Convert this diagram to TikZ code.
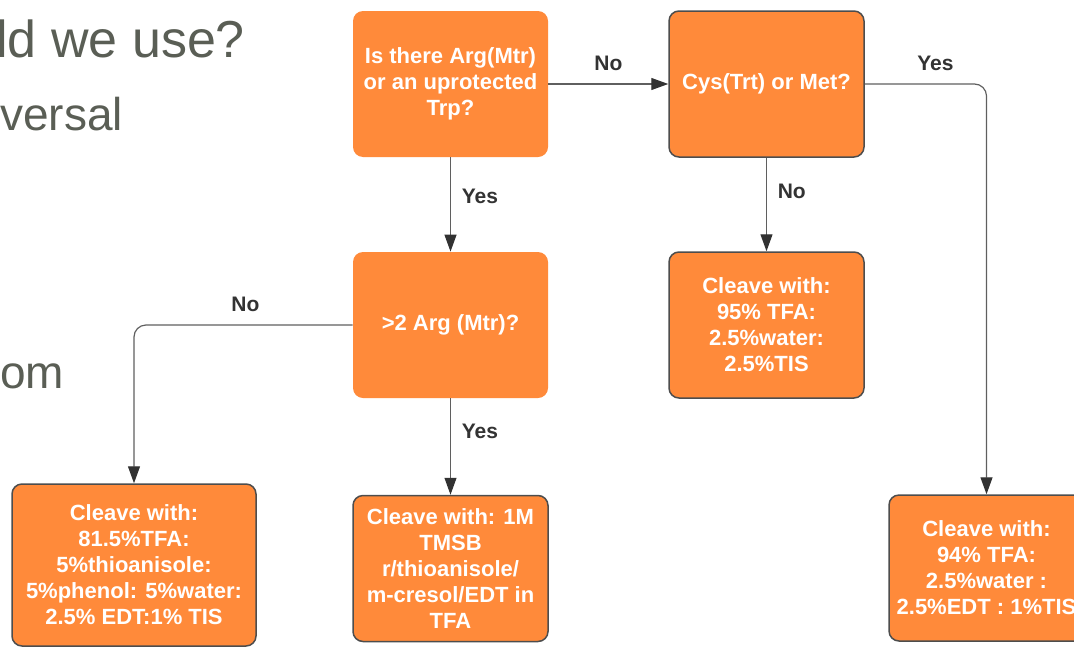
\documentclass[tikz,border=0pt]{standalone}
\usepackage{fontspec}
\setmainfont{Liberation Sans}
\usepackage{tikz}
\usetikzlibrary{%
	arrows.meta,% wg. Triangle
	positioning%
}
\definecolor{boxorange}{RGB}{255,138,58}
\definecolor{boxrim}{RGB}{77,77,77}
\definecolor{linegrey}{RGB}{95,95,95}
\definecolor{tipgrey}{RGB}{50,50,50}
\definecolor{slidegrey}{RGB}{90,94,85}
\tikzstyle{box}=[rectangle, rounded corners=5pt, fill=boxorange, text=white, align=center, font=\fontsize{11}{13}\selectfont\bfseries, minimum width=97.5pt, minimum height=73pt, inner sep=2pt]
\tikzstyle{framed} = [box, draw = boxrim, line width = 0.75pt]
\tikzstyle{edge} = [draw = linegrey, line width = 0.6pt, -{Triangle[length=8.5pt,width=6pt,color=tipgrey]}]
\tikzstyle{answer} = [font=\fontsize{10.5}{12}\selectfont\bfseries, text = black!80]
\tikzstyle{slide} = [anchor = base west, inner sep = 0pt, text = slidegrey]

\begin{document}
\begin{tikzpicture}[x=0.5pt,y=-0.5pt]
	\useasboundingbox (0,0) rectangle (1074,648);
	\clip (0,0) rectangle (1074,648);
	
	% Slide text behind the chart
	\node[slide, font=\fontsize{26}{30}\selectfont] (title) at (-4,57) {ld we use?};
	\node[slide, font=\fontsize{23}{27}\selectfont] (line1) at (0,130) {versal};
	\node[slide, font=\fontsize{23}{27}\selectfont] (line2) at (0,388) {om};
	
	% Questions without a rim
	\foreach \pos/\name/\txt in {{(450.5,84)/arg/{Is there Arg(Mtr)\\or an uprotected\\Trp?}},
		{(450.5,325)/many/{>2 Arg (Mtr)?}}}
	\node[box] (\name) at \pos {\txt};
	
	% Framed boxes
	\foreach \pos/\name/\txt in {{(766.5,84)/cys/{Cys(Trt) or Met?}},
		{(766.5,325)/cleaveA/{Cleave with:\\95\% TFA:\\2.5\%water:\\2.5\%TIS}},
		{(450.5,568.5)/cleaveB/{Cleave with: 1M\\TMSB\\r/thioanisole/\\m-cresol/EDT in\\TFA}},
		{(986.5,568)/cleaveC/{Cleave with:\\94\% TFA:\\2.5\%water :\\2.5\%EDT : 1\%TIS}}}
	\node[framed] (\name) at \pos {\txt};
	
	\node[framed, minimum width=122pt, minimum height=81pt] (cleaveD) at (134,565)
		{Cleave with:\\81.5\%TFA:\\5\%thioanisole:\\5\%phenol: 5\%water:\\2.5\% EDT:1\% TIS};
	
	% Straight connectors, answer to the right
	\foreach \source/\dest/\answer/\where in {arg/many/Yes/0.41, cys/cleaveA/No/0.36, many/cleaveB/Yes/0.34}
	\path[edge] (\source) -- node[answer, right=2pt, pos=\where]{\answer} (\dest);
	
	\path[edge] (arg) -- node[answer, above=3pt]{No} (cys);
	
	% Connectors with a bend
	\path[edge, rounded corners=6pt] (cys.east) -| node[answer, above=3pt, pos=0.29]{Yes} (cleaveC.north);
	\path[edge, rounded corners=6pt] (many.west) -| node[answer, above=3pt, pos=0.245]{No} (cleaveD.north);
	
\end{tikzpicture}
\end{document}
